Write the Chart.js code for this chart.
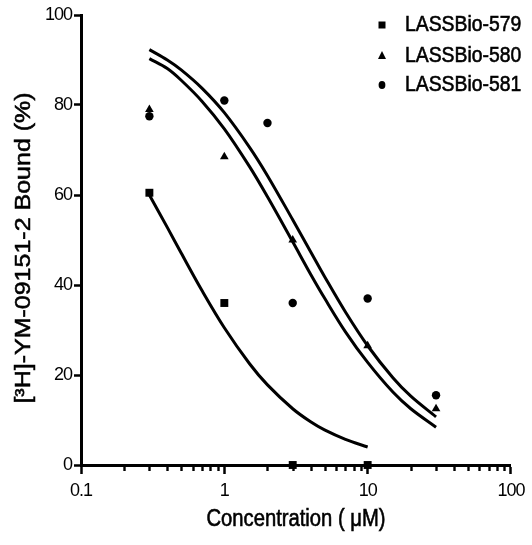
<!DOCTYPE html>
<html>
<head>
<meta charset="utf-8">
<title>[3H]-YM-09151-2 binding</title>
<script src="https://cdn.jsdelivr.net/npm/chart.js@4/dist/chart.umd.min.js"></script>
<style>
  html, body { margin: 0; padding: 0; background: #fff; }
  #wrap { width: 532px; height: 545px; }
</style>
</head>
<body>
<div id="wrap"><canvas id="c" width="532" height="545"></canvas></div>
<script>
// Measured binding (% of control) per compound
const conc579 = [0.3, 1, 3, 10];
const bound579 = [60.5, 36, 0, 0];
const conc580 = [0.3, 1, 3, 10, 30];
const bound580 = [79, 68.5, 50, 26.5, 12.5];
const conc581 = [0.3, 1, 2, 3, 10, 30];
const bound581 = [77.5, 81, 76, 36, 37, 15.5];

// Fitted dose-response curves, sampled along concentration
const fitConc579 = [0.3, 0.4, 0.5, 0.7, 1, 1.5, 2, 3, 4, 5, 7, 10];
const fitBound579 = [60.0, 52.8, 47.1, 38.7, 30.5, 22.5, 17.8, 12.5, 9.6, 7.8, 5.7, 4.0];
const fitConc58x = [0.3, 0.4, 0.5, 0.7, 1, 1.5, 2, 3, 4, 5, 7, 10, 15, 20, 30];
const fitBound580 = [90.3, 88.1, 85.5, 80.8, 74.7, 66.3, 59.6, 49.6, 42.4, 37.1, 29.6, 22.8, 16.2, 12.5, 8.4];
const fitBound581 = [92.3, 90.0, 87.8, 83.7, 78.3, 70.6, 64.3, 54.5, 47.4, 41.9, 34.0, 26.5, 19.4, 15.3, 10.7];

const seriesNames = ['LASSBio-579', 'LASSBio-580', 'LASSBio-581'];
const yTicks = [0, 20, 40, 60, 80, 100];
const xDecades = [0.1, 1, 10, 100];
const xTitle = 'Concentration ( \u03bcM)';
const yTitle = '[\u00b3H]-YM-09151-2 Bound (%)';

const FONT = '"Liberation Sans", Arial, Helvetica, sans-serif';
const SQUISH = 0.86;

const pairs = (xs, ys) => xs.map((x, i) => ({ x: x, y: ys[i] }));

// every 1..9 multiple inside each decade, for the log axis ticks
const logTickValues = [];
for (let d = 0; d < xDecades.length - 1; d++) {
  for (let m = 1; m <= 9; m++) logTickValues.push(+(xDecades[d] * m).toPrecision(3));
}
logTickValues.push(xDecades[xDecades.length - 1]);
const isDecade = v => xDecades.some(d => Math.abs(d - v) < 1e-9);

const markerStyles = ['rect', 'triangle', 'circle'];
const markerRadius = [5.6, 5, 4.2];

const curve = (xs, ys) => ({
  type: 'line', data: pairs(xs, ys), borderColor: '#000', borderWidth: 3,
  pointRadius: 0, tension: 0.35, fill: false, clip: false, order: 2
});
const marks = (xs, ys, i) => ({
  type: 'scatter', label: seriesNames[i], data: pairs(xs, ys),
  pointStyle: markerStyles[i], pointRadius: markerRadius[i],
  backgroundColor: '#000', borderColor: '#000', borderWidth: 0, clip: false, order: 1
});

function squishText(ctx, text, x, y, size, align, rotate) {
  ctx.save();
  ctx.letterSpacing = '0px';
  ctx.font = size + 'px ' + FONT;
  ctx.fillStyle = '#000';
  ctx.strokeStyle = '#000';
  ctx.lineWidth = 0.6;
  ctx.textAlign = align;
  ctx.textBaseline = 'middle';
  ctx.translate(x, y);
  if (rotate) { ctx.rotate(-Math.PI / 2); ctx.scale(1, SQUISH); }
  else ctx.scale(SQUISH, 1);
  ctx.fillText(text, 0, 0);
  ctx.strokeText(text, 0, 0);
  ctx.restore();
}

const decorations = {
  id: 'decorations',
  beforeDraw(chart) { chart.ctx.letterSpacing = '-1px'; },
  afterDraw(chart) {
    const ctx = chart.ctx;
    const xs = chart.scales.x, area = chart.chartArea;
    // short minor ticks on the log axis
    ctx.save();
    ctx.strokeStyle = '#000';
    ctx.lineWidth = 2.4;
    logTickValues.filter(v => !isDecade(v)).forEach(v => {
      const px = Math.round(xs.getPixelForValue(v)) + 0.5;
      ctx.beginPath();
      ctx.moveTo(px, area.bottom);
      ctx.lineTo(px, area.bottom + 6);
      ctx.stroke();
    });
    ctx.restore();

    // axis titles
    squishText(ctx, xTitle, (area.left + area.right) / 2, 520, 23.5, 'center', false);
    squishText(ctx, yTitle, 24, (area.top + area.bottom) / 2 + 8, 25, 'center', true);

    // legend
    const lx = 382, tx = 405, rows = [25, 55.5, 85];
    seriesNames.forEach((name, i) => {
      const y = rows[i];
      ctx.save();
      ctx.fillStyle = '#000';
      ctx.beginPath();
      if (i === 0) ctx.rect(lx - 3.5, y - 3.5, 7, 7);
      else if (i === 1) { ctx.moveTo(lx, y - 4.5); ctx.lineTo(lx + 4, y + 3.5); ctx.lineTo(lx - 4, y + 3.5); ctx.closePath(); }
      else ctx.ellipse(lx, y, 3.4, 4, 0, 0, Math.PI * 2);
      ctx.fill();
      ctx.restore();
      squishText(ctx, name, tx, y, 22.5, 'left', false);
    });
  }
};

new Chart(document.getElementById('c'), {
  data: {
    datasets: [
      curve(fitConc579, fitBound579),
      curve(fitConc58x, fitBound580),
      curve(fitConc58x, fitBound581),
      marks(conc579, bound579, 0),
      marks(conc580, bound580, 1),
      marks(conc581, bound581, 2)
    ]
  },
  options: {
    responsive: false,
    animation: false,
    devicePixelRatio: 1,
    layout: { padding: { top: 15, right: 19.5, left: 0, bottom: 0 } },
    plugins: { legend: { display: false }, tooltip: { enabled: false } },
    scales: {
      x: {
        type: 'logarithmic', position: 'bottom', min: 0.1, max: 100,
        afterBuildTicks(scale) { scale.ticks = logTickValues.map(v => ({ value: v, major: isDecade(v) })); },
        afterFit(scale) { scale.height = 80; },
        ticks: {
          autoSkip: false, maxRotation: 0, minRotation: 0, padding: 6, color: '#000',
          font: { family: FONT, size: 18 },
          callback: v => isDecade(v) ? String(v) : ''
        },
        grid: {
          drawOnChartArea: false, drawTicks: true, tickLength: 9, tickWidth: 2.5,
          tickColor: c => (c.tick && isDecade(c.tick.value)) ? '#000' : 'rgba(0,0,0,0)'
        },
        border: { display: true, color: '#000', width: 3 }
      },
      y: {
        type: 'linear', position: 'left', min: 0, max: 100,
        afterBuildTicks(scale) { scale.ticks = yTicks.map(v => ({ value: v })); },
        afterFit(scale) { scale.width = 81; },
        ticks: { padding: 2, color: '#000', font: { family: FONT, size: 18 } },
        grid: { drawOnChartArea: false, drawTicks: true, tickLength: 7, tickWidth: 2.5, tickColor: '#000' },
        border: { display: true, color: '#000', width: 3 }
      }
    }
  },
  plugins: [decorations]
});
</script>
</body>
</html>
